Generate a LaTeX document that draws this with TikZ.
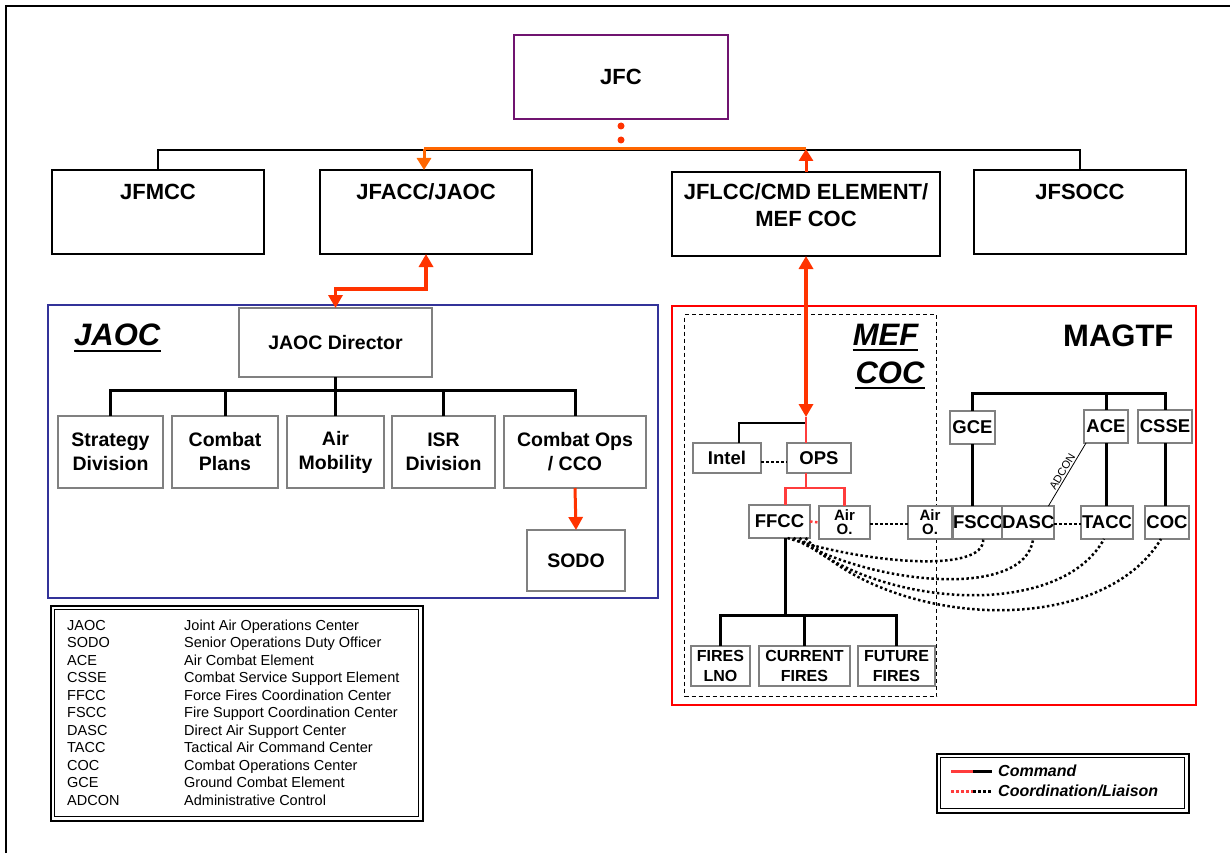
\documentclass[tikz,border=0pt]{standalone}
\usepackage{fontspec}
\setmainfont{Liberation Sans}
\usetikzlibrary{arrows.meta}
\definecolor{jfcpurple}{RGB}{112,20,112}
\definecolor{boxgray}{RGB}{128,128,128}
\definecolor{cmdred}{RGB}{255,51,0}
\definecolor{busorange}{RGB}{255,102,0}
\definecolor{jaocblue}{RGB}{51,51,153}
\definecolor{magred}{RGB}{255,0,0}
\definecolor{opsred}{RGB}{255,60,60}
\newcommand{\fs}[2]{\fontsize{#1}{#2}\selectfont}
\begin{document}
\begin{tikzpicture}[x=1pt,y=-1pt,
  box/.style={anchor=north west, inner sep=0pt, outer sep=0pt, align=center},
  topbox/.style={box, draw=black, line width=2pt},
  toptext/.style={anchor=base, inner sep=0pt, font=\bfseries\fs{22}{27.5}, align=center},
  gbox/.style={box, draw=boxgray, line width=2pt, fill=white},
  divfont/.style={font=\bfseries\fs{19.5}{24}},
  smallfont/.style={font=\bfseries\fs{18.5}{20}},
  airfont/.style={font=\bfseries\fs{15}{14}},
  firesfont/.style={font=\bfseries\fs{16}{20}},
  bus/.style={draw=black, line width=2.5pt},
  thickbus/.style={draw=black, line width=3pt},
  cmd/.style={draw=cmdred, line width=3.5pt},
  cmdarrow/.style={cmd, -{Triangle[width=14pt,length=13pt]}},
  cmdboth/.style={cmd, {Triangle[width=14pt,length=13pt]}-{Triangle[width=14pt,length=13pt]}},
  dots/.style={draw=black, line width=2.5pt, dash pattern=on 2.5pt off 2.5pt},
  reddots/.style={draw=opsred, line width=2.5pt, dash pattern=on 2.5pt off 2.5pt},
  opsline/.style={draw=opsred, line width=2.5pt},
  title/.style={inner sep=0pt, anchor=base, font=\bfseries\itshape\fs{31}{38}},
  uline/.style={draw=black, line width=2.5pt},
  legbox/.style={draw=black, anchor=north west, inner sep=0pt},
]
\path[use as bounding box, fill=white] (0,0) rectangle (1230,853);
% page frame
\draw[line width=2pt] (6,853) -- (6,6) -- (1230,6);

% ---------- top level ----------
\node[topbox, draw=jfcpurple, minimum width=214pt, minimum height=84pt, font=\bfseries\fs{22}{26}] (jfc) at (514,35) {JFC};
\node[topbox, minimum width=212pt, minimum height=84pt] (jfmcc) at (52,170) {};
\node[topbox, minimum width=212pt, minimum height=84pt] (jfacc) at (320,170) {};
\node[topbox, minimum width=268pt, minimum height=84pt] (jflcc) at (672,172) {};
\node[topbox, minimum width=212pt, minimum height=84pt] (jfsocc) at (974,170) {};
\node[toptext] (jfmcct) at ([yshift=-29pt]jfmcc.north) {JFMCC};
\node[toptext] (jfacct) at ([yshift=-29pt]jfacc.north) {JFACC/JAOC};
\node[toptext, anchor=north] (jflcct) at ([yshift=-11pt]jflcc.north) {JFLCC/CMD ELEMENT/\\MEF COC};
\node[toptext] (jfsocct) at ([yshift=-29pt]jfsocc.north) {JFSOCC};

\draw[draw=cmdred, line width=7pt, line cap=round, dash pattern=on 0pt off 14pt] ([yshift=-7pt]jfc.south) -- ([yshift=-22pt]jfc.south);
\draw[bus] (jfmcc.north) -- ++(0,-20) -| (jfsocc.north);
\coordinate (oL) at (424,149);
\coordinate (oR) at (806,149);
\draw[draw=busorange, line width=3pt] (oL) -- (oR);
\draw[draw=busorange, line width=3pt, -{Triangle[width=14pt,length=12pt]}] (oL) -- (oL |- jfacc.north);
\draw[cmd, line width=3pt, -{Triangle[width=14pt,length=12pt]}] (jflcc.north) -- (jflcc.north |- oR);

% ---------- JAOC ----------
\node[draw=jaocblue, line width=1.5pt, anchor=north west, inner sep=0pt, minimum width=610pt, minimum height=293pt] (jaocbox) at (47,304) {};
\node[title, anchor=base west] (jaoct) at (74,345) {JAOC};
\draw[uline] ([yshift=-6pt]jaoct.base west) -- ([yshift=-6pt]jaoct.base east);
\node[gbox, minimum width=193pt, minimum height=69pt, divfont] (dir) at (239,308) {JAOC Director};
\node[gbox, minimum width=105pt, minimum height=72pt, divfont] (strat) at (58,416) {Strategy\\Division};
\node[gbox, minimum width=106pt, minimum height=72pt, divfont] (plans) at (172,416) {Combat\\Plans};
\node[gbox, minimum width=97pt, minimum height=72pt, divfont] (airmob) at (287,416) {Air\\Mobility};
\node[gbox, minimum width=103pt, minimum height=72pt, divfont] (isr) at (392,416) {ISR\\Division};
\node[gbox, minimum width=142pt, minimum height=72pt, divfont] (combops) at (504,416) {Combat Ops\\/ CCO};
\node[gbox, minimum width=98pt, minimum height=61pt, divfont] (sodo) at (527,530) {SODO};

\draw[thickbus] (dir.south) -- ++(0,13) coordinate (dbus);
\draw[thickbus] (strat.north) |- (dbus) -| (combops.north);
\draw[thickbus] (plans.north) -- (plans.north |- dbus);
\draw[thickbus] (airmob.north) -- (airmob.north |- dbus);
\draw[thickbus] (isr.north) -- (isr.north |- dbus);
\draw[cmdarrow, line width=3pt] (combops.south) -- (sodo.north);
\draw[cmdboth] (jfacc.south) -- ++(0,35) -| (dir.north);

% ---------- legend 1 ----------
\node[legbox, line width=2pt, minimum width=372pt, minimum height=215pt] (leg1) at (50,605) {};
\node[legbox, line width=0.8pt, minimum width=364pt, minimum height=207pt] (leg1in) at (54,609) {};
\node[anchor=base west, inner sep=0pt, font=\fs{14.5}{17.5}] (legtext) at (67,630) {%
\begin{tabular}[t]{@{}p{117pt}@{}l@{}}
JAOC & Joint Air Operations Center\\
SODO & Senior Operations Duty Officer\\
ACE & Air Combat Element\\
CSSE & Combat Service Support Element\\
FFCC & Force Fires Coordination Center\\
FSCC & Fire Support Coordination Center\\
DASC & Direct Air Support Center\\
TACC & Tactical Air Command Center\\
COC & Combat Operations Center\\
GCE & Ground Combat Element\\
ADCON & Administrative Control
\end{tabular}};

% ---------- legend 2 ----------
\node[legbox, line width=2pt, minimum width=252pt, minimum height=59pt] (leg2) at (936,753) {};
\node[legbox, line width=0.8pt, minimum width=244pt, minimum height=51pt] (leg2in) at (940,757) {};
\coordinate (lc1) at (951,771.7);
\coordinate (lc2) at (973,771.7);
\coordinate (lc3) at (992,771.7);
\coordinate (ld1) at (951,791.7);
\coordinate (ld2) at (973,791.7);
\coordinate (ld3) at (992,791.7);
\draw[draw=opsred, line width=3pt] (lc1) -- (lc2);
\draw[draw=black, line width=3pt] (lc2) -- (lc3);
\draw[reddots, line width=3pt] (ld1) -- (ld2);
\draw[dots, line width=3pt] (ld2) -- (ld3);
\node[anchor=base west, inner sep=0pt, font=\bfseries\itshape\fs{16}{20}] (lcmd) at (998,776.7) {Command};
\node[anchor=base west, inner sep=0pt, font=\bfseries\itshape\fs{16}{20}] (lcoord) at (998,796.7) {Coordination/Liaison};

% ---------- MAGTF ----------
\node[draw=magred, line width=2pt, anchor=north west, inner sep=0pt, minimum width=524pt, minimum height=399pt] (magbox) at (671,305) {};
\node[draw=black, line width=1pt, dash pattern=on 4pt off 3pt, anchor=north west, inner sep=0pt, minimum width=252pt, minimum height=382pt] (mefbox) at (684,314) {};
\node[title] (meft) at (885.5,345) {MEF};
\node[title] (coct) at (890,383) {COC};
\draw[uline] ([yshift=-5pt]meft.base west) -- ([yshift=-5pt]meft.base east);
\draw[uline] ([yshift=-5pt]coct.base west) -- ([yshift=-5pt]coct.base east);
\node[title, anchor=base west, font=\bfseries\fs{31}{38}] (magt) at (1063,346.7) {MAGTF};

\node[gbox, minimum width=68pt, minimum height=30pt, smallfont] (intel) at (693,443) {Intel};
\node[gbox, minimum width=64pt, minimum height=30pt, smallfont] (ops) at (787,443) {OPS};
\node[gbox, minimum width=61pt, minimum height=33pt, smallfont] (ffcc) at (749,505) {FFCC};
\node[gbox, minimum width=51pt, minimum height=33pt, airfont] (airo1) at (819,506) {Air\\O.};
\node[gbox, minimum width=44pt, minimum height=33pt, airfont] (airo2) at (908,506) {Air\\O.};
\node[gbox, minimum width=49pt, minimum height=33pt, smallfont] (fscc) at (953,506) {FSCC};
\node[gbox, minimum width=52pt, minimum height=33pt, smallfont] (dasc) at (1002,506) {DASC};
\node[gbox, minimum width=52pt, minimum height=33pt, smallfont] (tacc) at (1081,506) {TACC};
\node[gbox, minimum width=44pt, minimum height=33pt, smallfont] (coc) at (1145,506) {COC};
\node[gbox, minimum width=45pt, minimum height=33pt, smallfont] (gce) at (950,411) {GCE};
\node[gbox, minimum width=44pt, minimum height=33pt, smallfont] (ace) at (1084,410) {ACE};
\node[gbox, minimum width=54pt, minimum height=33pt, smallfont] (csse) at (1138,410) {CSSE};
\node[gbox, minimum width=59pt, minimum height=40pt, firesfont] (fireslno) at (691,646) {FIRES\\LNO};
\node[gbox, minimum width=91pt, minimum height=40pt, firesfont] (current) at (759,646) {CURRENT\\FIRES};
\node[gbox, minimum width=77pt, minimum height=40pt, firesfont] (future) at (858,646) {FUTURE\\FIRES};

% MEF connectors
\coordinate (mefj) at (806,423);
\draw[bus] ([xshift=12pt]intel.north) |- (mefj);
\draw[opsline, line width=2pt] ([yshift=6pt]mefj) -- (mefj |- ops.north);
\draw[cmdboth] (jflcc.south) -- ([yshift=6pt]mefj);
\draw[dots] ([yshift=-4pt]intel.east) -- ([yshift=-4pt]ops.west);
\draw[opsline] (mefj |- ops.south) -- ++(0,15) coordinate (opsb);
\draw[opsline] ([xshift=6pt]ffcc.north) |- (opsb) -| (airo1.north);
\draw[reddots] (ffcc.east) -- (airo1.west);
\draw[dots] ([yshift=-1.5pt]airo1.east) -- ([yshift=-1.5pt]airo2.west);
\draw[dots] ([yshift=-1.5pt]dasc.east) -- ([yshift=-1.5pt]tacc.west);
\draw[thickbus] ([xshift=6pt]ffcc.south) -- ++(0,77) coordinate (fbus);
\draw[thickbus] (fireslno.north) |- (future.north |- fbus) -- (future.north);
\draw[thickbus] (current.north) -- (current.north |- fbus);

% MAGTF connectors
\draw[thickbus] (gce.north) -- ++(0,-18) coordinate (mbus) -| (csse.north);
\draw[thickbus] (ace.north) -- (ace.north |- mbus);
\draw[thickbus] (gce.south) -- (gce.south |- fscc.north);
\draw[thickbus] (ace.south) -- (ace.south |- tacc.north);
\draw[thickbus] (csse.south) -- (csse.south |- coc.north);
\draw[line width=0.8pt] ([xshift=-6pt]dasc.north east) -- ([xshift=2pt]ace.south west)
  node[midway, sloped, above, inner sep=1.5pt, font=\fs{11}{13}] (adcon) {ADCON};

% coordination curves
\draw[dots] ([xshift=8pt]ffcc.south) .. controls (860,562) and (985,575) .. ([xshift=5pt]fscc.south);
\draw[dots] ([xshift=14pt]ffcc.south) .. controls (870,585) and (1025,600) .. ([xshift=5pt]dasc.south);
\draw[dots] ([xshift=20pt]ffcc.south) .. controls (880,608) and (1060,620) .. ([xshift=-3pt]tacc.south);
\draw[dots] ([xshift=26pt]ffcc.south) .. controls (890,628) and (1100,640) .. ([xshift=-6pt]coc.south);
\end{tikzpicture}
\end{document}
